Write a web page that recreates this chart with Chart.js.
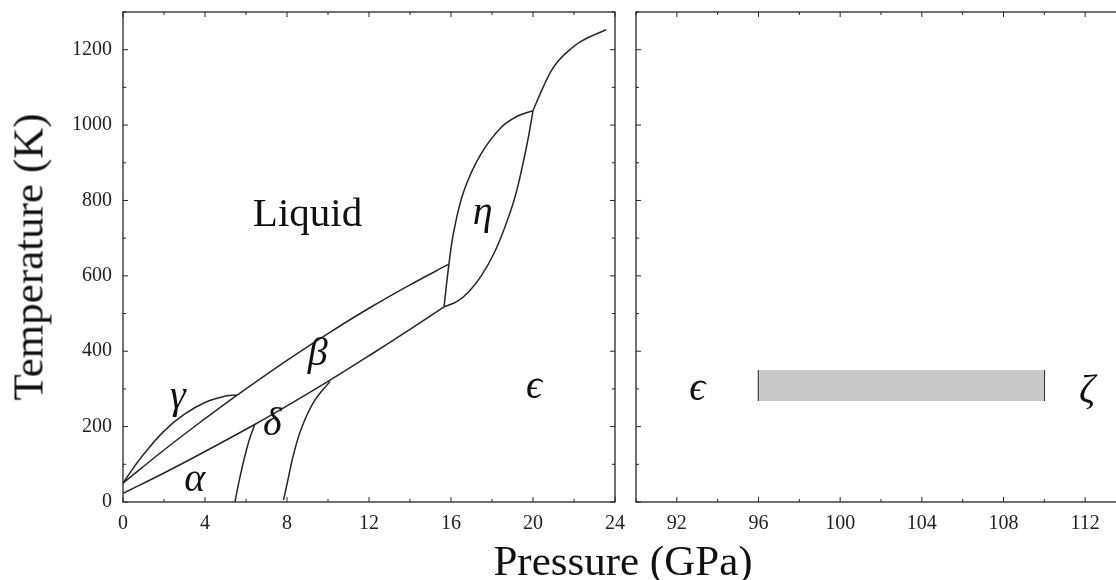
<!DOCTYPE html>
<html>
<head>
<meta charset="utf-8">
<script src="https://cdn.jsdelivr.net/npm/chart.js@4.4.1/dist/chart.umd.min.js"></script>
<style>
  html, body { margin: 0; padding: 0; background: #fff; overflow: hidden; }
  #wrap { position: relative; width: 1116px; height: 580px; overflow: hidden; }
  canvas { position: absolute; top: 0; }
  #left { left: 0; }
  #right { left: 625px; }
  .axt { position: absolute; font-family: 'Liberation Serif', serif; font-size: 43px; line-height: 43px; white-space: nowrap; color: #111; }
  #ytitle { left: 28px; top: 257px; transform: translate(-50%, -50%) rotate(-90deg); }
  #xtitle { left: 623px; top: 539px; transform: translateX(-50%); }
</style>
</head>
<body>
<div id="wrap">
  <canvas id="left" width="625" height="580"></canvas>
  <canvas id="right" width="520" height="580"></canvas>
  <div class="axt" id="ytitle">Temperature (K)</div>
  <div class="axt" id="xtitle">Pressure (GPa)</div>
</div>
<script>
// phase boundaries, pressure in GPa, temperature in K
const gammaP = [0, 0.5, 1, 2, 3, 4, 5, 5.55];
const gammaT = [50, 90, 126, 188, 233, 264, 281, 284];

const liqBetaP = [0, 2, 4, 5.55, 8, 10, 12, 14, 15.9];
const liqBetaT = [50, 138, 221, 283, 376, 447, 514, 576, 631];

const alphaBetaP = [0, 2, 4, 6.4, 8, 10, 12, 14, 15.66];
const alphaBetaT = [23, 77, 134, 205, 255, 320, 388, 458, 518];

const deltaLP = [5.46, 5.65, 5.9, 6.15, 6.42];
const deltaLT = [0, 52, 112, 163, 205];

const deltaRP = [7.83, 8.05, 8.3, 8.7, 9.3, 10.1];
const deltaRT = [5, 60, 122, 195, 265, 320];

const etaLP = [15.66, 15.9, 16.14, 16.63, 17.45, 18.43, 19.25, 20.0];
const etaLT = [518, 631, 719, 825, 922, 993, 1024, 1038];

const etaRP = [15.66, 16.3, 16.9, 17.5, 18.1, 18.6, 19.1, 19.5, 19.8, 20.0];
const etaRT = [518, 532, 560, 602, 660, 725, 805, 895, 975, 1038];

const meltP = [20.0, 20.39, 20.6, 20.88, 21.2, 21.53, 22.34, 23.57];
const meltT = [1038, 1088, 1113, 1143, 1168, 1187, 1222, 1253];

// high pressure transition band
const bandP = [96, 110];
const bandT = [268, 350];

const ink = '#262626';
const serif = "'Liberation Serif', 'DejaVu Serif', serif";

const pts = (P, T) => P.map((p, i) => ({ x: p, y: T[i] }));

const curve = (P, T) => ({
    data: pts(P, T),
    showLine: true,
    borderColor: ink,
    borderWidth: 1.5,
    pointRadius: 0,
    tension: 0.4,
    fill: false
});

// inward ticks on all four sides plus the box
const frame = {
    id: 'frame',
    afterDraw(chart) {
        const { ctx, chartArea: a, scales: { x, y } } = chart;
        ctx.save();
        ctx.strokeStyle = ink;
        ctx.lineWidth = 1.3;
        ctx.strokeRect(a.left, a.top, a.right - a.left, a.bottom - a.top);
        ctx.lineWidth = 1;
        ctx.beginPath();
        x.ticks.forEach(t => {
            const px = x.getPixelForValue(t.value);
            const len = (t.value % 4 === 0) ? 5 : 3;
            ctx.moveTo(px, a.bottom); ctx.lineTo(px, a.bottom - len);
            ctx.moveTo(px, a.top); ctx.lineTo(px, a.top + len);
        });
        y.ticks.forEach(t => {
            const py = y.getPixelForValue(t.value);
            const len = (t.value % 200 === 0) ? 5 : 3;
            ctx.moveTo(a.left, py); ctx.lineTo(a.left + len, py);
            ctx.moveTo(a.right, py); ctx.lineTo(a.right - len, py);
        });
        ctx.stroke();
        ctx.restore();
    }
};

// region names
const phaseLabels = {
    id: 'phaseLabels',
    afterDatasetsDraw(chart, args, opts) {
        const { ctx, scales: { x, y } } = chart;
        ctx.save();
        ctx.fillStyle = '#111';
        ctx.textAlign = 'center';
        ctx.textBaseline = 'middle';
        (opts.items || []).forEach(l => {
            ctx.font = (l.italic ? 'italic ' : '') + l.size + 'px ' + serif;
            ctx.fillText(l.text, x.getPixelForValue(l.p), y.getPixelForValue(l.t));
        });
        ctx.restore();
    }
};

function axes(xmin, xmax, yWidth, showY) {
    const font = { family: serif, size: 20 };
    return {
        x: {
            type: 'linear', min: xmin, max: xmax,
            ticks: { stepSize: 2, autoSkip: false, maxRotation: 0, padding: 10, color: '#222', font,
                callback: v => v % 4 === 0 ? String(v) : '' },
            grid: { display: false, drawTicks: false },
            border: { display: false },
            afterFit: s => { s.height = 78; s.paddingLeft = 0; s.paddingRight = 0; }
        },
        y: {
            type: 'linear', min: 0, max: 1300,
            ticks: { stepSize: 100, autoSkip: false, padding: showY ? 11 : 0, color: '#222', font,
                callback: v => (showY && v % 200 === 0) ? String(v) : '' },
            grid: { display: false, drawTicks: false },
            border: { display: false },
            afterFit: s => { s.width = yWidth; s.paddingTop = 0; s.paddingBottom = 0; }
        }
    };
}

const baseOpts = (scales, pad, items) => ({
    responsive: false,
    animation: false,
    layout: { padding: pad },
    scales,
    plugins: {
        legend: { display: false },
        tooltip: { enabled: false },
        phaseLabels: { items }
    }
});

new Chart(document.getElementById('left'), {
    type: 'scatter',
    data: {
        datasets: [
            curve(gammaP, gammaT),
            curve(liqBetaP, liqBetaT),
            curve(alphaBetaP, alphaBetaT),
            curve(deltaLP, deltaLT),
            curve(deltaRP, deltaRT),
            curve(etaLP, etaLT),
            curve(etaRP, etaRT),
            curve(meltP, meltT)
        ]
    },
    options: baseOpts(axes(0, 24, 123, true), { top: 12, right: 10, left: 0, bottom: 0 }, [
        { text: 'Liquid', p: 9.0, t: 760, size: 41 },
        { text: 'η', p: 17.55, t: 765, size: 40, italic: true },
        { text: 'β', p: 9.5, t: 392, size: 40, italic: true },
        { text: 'γ', p: 2.68, t: 278, size: 40, italic: true },
        { text: 'δ', p: 7.28, t: 206, size: 40, italic: true },
        { text: 'α', p: 3.5, t: 56, size: 40, italic: true },
        { text: 'ϵ', p: 20.05, t: 303, size: 40, italic: true }
    ]),
    plugins: [frame, phaseLabels]
});

new Chart(document.getElementById('right'), {
    type: 'scatter',
    data: {
        datasets: [
            { data: pts(bandP, [bandT[1], bandT[1]]), showLine: true, borderWidth: 0, borderColor: 'rgba(0,0,0,0)',
              pointRadius: 0, backgroundColor: '#c8c8c8', fill: '+1' },
            { data: pts(bandP, [bandT[0], bandT[0]]), showLine: true, borderWidth: 0, borderColor: 'rgba(0,0,0,0)',
              pointRadius: 0, fill: false },
            { ...curve([bandP[0], bandP[0]], bandT), tension: 0 },
            { ...curve([bandP[1], bandP[1]], bandT), tension: 0 }
        ]
    },
    options: baseOpts(axes(90, 114, 11, false), { top: 12, right: 19, left: 0, bottom: 0 }, [
        { text: 'ϵ', p: 93.0, t: 298, size: 40, italic: true },
        { text: 'ζ', p: 112.1, t: 292, size: 40, italic: true }
    ]),
    plugins: [frame, phaseLabels]
});
</script>
</body>
</html>
